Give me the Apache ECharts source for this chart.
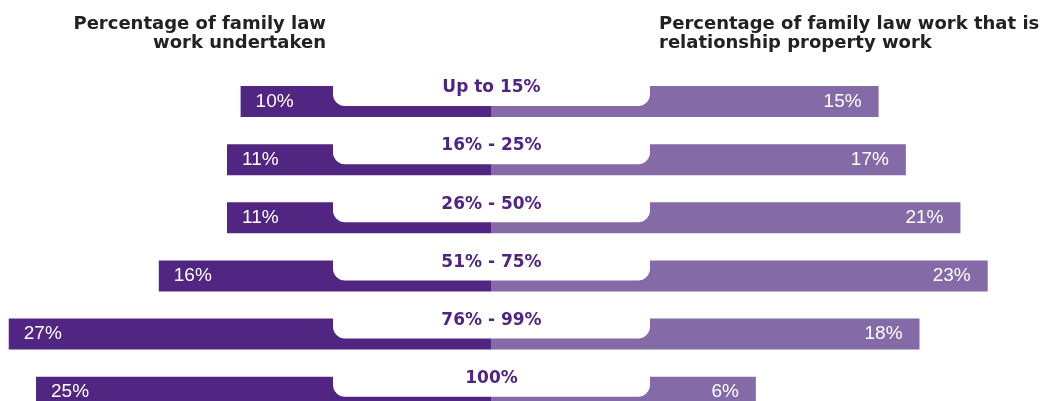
<!DOCTYPE html>
<html>
<head>
<meta charset="utf-8">
<title>Family law work</title>
<script src="https://cdn.jsdelivr.net/npm/echarts@6/dist/echarts.min.js"></script>
<style>
  html, body { margin: 0; padding: 0; background: #ffffff; }
  #chart { width: 1046px; height: 401px; }
</style>
</head>
<body>
<div id="chart"></div>
<script>
// Share of family law work undertaken, by band
const bands = ['Up to 15%', '16% - 25%', '26% - 50%', '51% - 75%', '76% - 99%', '100%'];
// Left side: percentage of family law work undertaken
const familyLawShare = [10, 11, 11, 16, 27, 25];
// Right side: percentage of family law work that is relationship property work
const propertyShare = [15, 17, 21, 23, 18, 6];

const leftTitle = 'Percentage of family law\nwork undertaken';
const rightTitle = 'Percentage of family law work that is\nrelationship property work';

// Room (in axis units) kept on each side of the centre for the band label box
const LEFT_GAP = 8.3585;
const RIGHT_GAP = 13.4164;

const DARK = '#512582';
const LIGHT = '#846BA8';

const chart = echarts.init(document.getElementById('chart'), null, { renderer: 'canvas' });

const gridTop = 72.5;
const gridHeight = 348.8;
const BAR_W = 31;

const titleStyle = {
  fontFamily: 'DejaVu Sans, sans-serif', fontWeight: 700, fontSize: 18, lineHeight: 19, color: '#222222'
};

const valueLabel = {
  show: true,
  color: '#ffffff',
  fontFamily: 'Liberation Sans, Arial, sans-serif',
  fontSize: 19,
  formatter: p => p.value + '%'
};

// One side of the chart: a spacer segment running under the label box,
// with the value bar stacked on its outer end.
function side(axis, gap, values, color, labelPos, dist, key) {
  return [
    {
      name: key + '-spacer', type: 'bar', xAxisIndex: axis, yAxisIndex: axis, stack: key,
      barWidth: BAR_W, silent: true,
      itemStyle: { color: color },
      data: values.map(() => gap)
    },
    {
      name: key, type: 'bar', xAxisIndex: axis, yAxisIndex: axis, stack: key,
      barWidth: BAR_W,
      itemStyle: { color: color },
      label: Object.assign({}, valueLabel, { position: labelPos, distance: dist }),
      data: values
    }
  ];
}

chart.setOption({
  animation: false,
  title: [
    { text: leftTitle, left: 326, top: 15, padding: 0, textAlign: 'right', textStyle: titleStyle },
    { text: rightTitle, left: 659, top: 15, padding: 0, textStyle: titleStyle }
  ],
  grid: [
    { left: 0, width: 491, top: gridTop, height: gridHeight, outerBoundsMode: 'none' },
    { left: 491, width: 545.6, top: gridTop, height: gridHeight, outerBoundsMode: 'none' },
    { left: 333, width: 317, top: gridTop - 6.75, height: gridHeight, outerBoundsMode: 'none' }
  ],
  xAxis: [
    { gridIndex: 0, type: 'value', inverse: true, min: 0, max: 36, show: false },
    { gridIndex: 1, type: 'value', min: 0, max: 40, show: false },
    { gridIndex: 2, type: 'value', min: 0, max: 1, show: false }
  ],
  yAxis: [0, 1, 2].map(i => ({
    gridIndex: i, type: 'category', data: bands, inverse: true, show: false
  })),
  series: [
    ...side(0, LEFT_GAP, familyLawShare, DARK, 'insideLeft', 15, 'Family law work undertaken'),
    ...side(1, RIGHT_GAP, propertyShare, LIGHT, 'insideRight', 17, 'Relationship property work'),
    {
      name: 'band-label', type: 'bar', xAxisIndex: 2, yAxisIndex: 2,
      barWidth: 22.5, z: 5, silent: true,
      itemStyle: { color: '#ffffff', borderRadius: [0, 0, 12, 12] },
      label: {
        show: true,
        position: 'inside',
        offset: [0, -7],
        formatter: '{b}',
        color: '#4E2580',
        fontFamily: 'DejaVu Sans, sans-serif',
        fontWeight: 700,
        fontSize: 17
      },
      data: bands.map(() => 1)
    }
  ]
});
</script>
</body>
</html>
